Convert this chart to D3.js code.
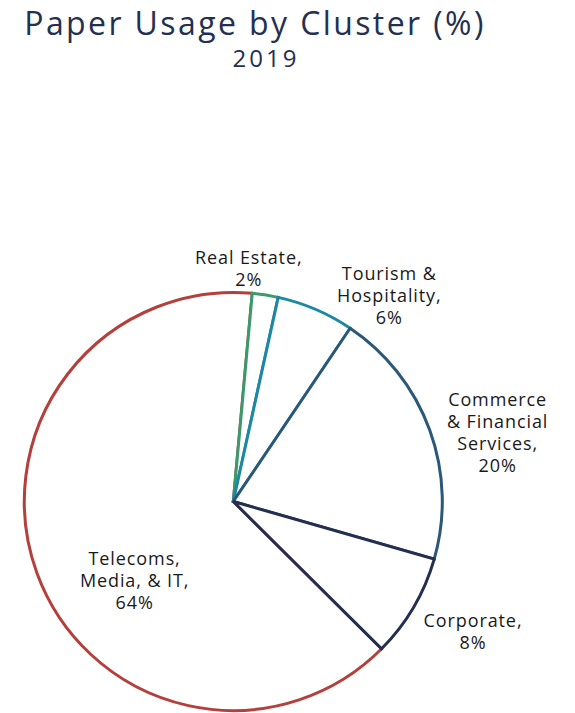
<!DOCTYPE html>
<html lang="en">
<head>
  <meta charset="UTF-8">
  <title>Paper Usage by Cluster</title>
  <script src="https://d3js.org/d3.v7.min.js"></script>
  <style>
    body { margin: 0; background: #fff; }
    svg { display: block; }
  </style>
</head>
<body>
  <svg></svg>
  <script>
    // data, in drawing order (later slices paint over shared edges)
    const clusters = ["Telecoms, Media, & IT", "Real Estate", "Tourism & Hospitality", "Commerce & Financial Services", "Corporate"];
    const shares = [64, 2, 6, 20, 8];
    const labelLines = [
      ["Telecoms,", "Media, & IT,"],
      ["Real Estate,"],
      ["Tourism &", "Hospitality,"],
      ["Commerce", "& Financial", "Services,"],
      ["Corporate,"]
    ];
    const colors = ["#b4403c", "#3b9a6b", "#1c87a6", "#2b5878", "#242f50"];

    // label placement: angle nudge (deg) and radius
    const labelNudge = [[-19, 127], [-5, 233], [14, 258], [5.5, 273], [-1.8, 273]];

    const width = 575, height = 713;
    const cx = 233.3, cy = 501.5, r = 209;
    const start = 134.8 * Math.PI / 180;

    const svg = d3.select("svg").attr("width", width).attr("height", height);

    svg.append("text")
      .attr("x", 255).attr("y", 35)
      .attr("text-anchor", "middle")
      .attr("font-family", "Open Sans, sans-serif")
      .attr("font-size", 32)
      .attr("letter-spacing", 2.4)
      .attr("fill", "#24304f")
      .text("Paper Usage by Cluster (%)");

    svg.append("text")
      .attr("x", 266).attr("y", 67)
      .attr("text-anchor", "middle")
      .attr("font-family", "Open Sans, sans-serif")
      .attr("font-size", 24)
      .attr("letter-spacing", 3)
      .attr("fill", "#24304f")
      .text("2019");

    const pie = d3.pie().sort(null).startAngle(start).endAngle(start + 2 * Math.PI);
    const arcs = pie(shares);
    const arc = d3.arc().innerRadius(0).outerRadius(r);

    const g = svg.append("g").attr("transform", `translate(${cx},${cy})`);

    g.selectAll("path")
      .data(arcs)
      .join("path")
      .attr("d", arc)
      .attr("fill", "#fff")
      .attr("stroke", (d, i) => colors[i])
      .attr("stroke-width", 3)
      .attr("stroke-linejoin", "miter");

    const lh = 22;
    g.selectAll("text.lbl")
      .data(arcs)
      .join("text")
      .attr("class", "lbl")
      .attr("text-anchor", "middle")
      .attr("font-family", "Open Sans, sans-serif")
      .attr("font-size", 18)
      .attr("letter-spacing", 0.9)
      .attr("fill", "#1a1a1a")
      .each(function (d, i) {
        const mid = (d.startAngle + d.endAngle) / 2 + labelNudge[i][0] * Math.PI / 180;
        const lr = labelNudge[i][1];
        const x = lr * Math.sin(mid);
        const y = -lr * Math.cos(mid);
        const lines = labelLines[i].concat([Math.round(d.data) + "%"]);
        const y0 = y - (lines.length - 1) * lh / 2 + 6;
        const t = d3.select(this);
        lines.forEach((s, k) => {
          t.append("tspan").attr("x", x).attr("y", y0 + k * lh).text(s);
        });
      });
  </script>
</body>
</html>
